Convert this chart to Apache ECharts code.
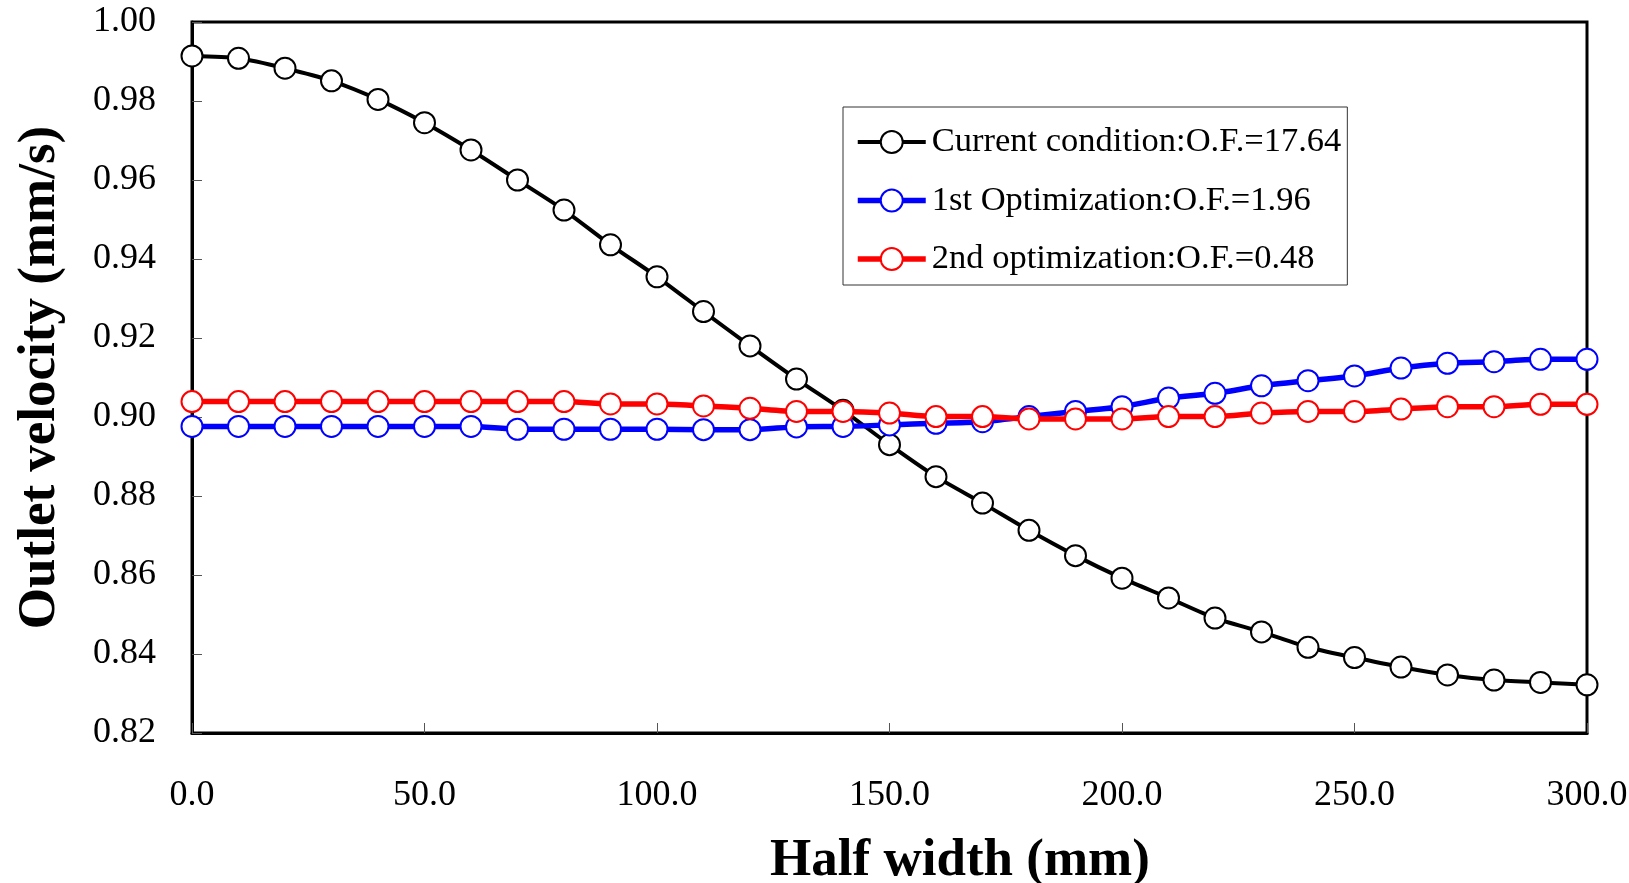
<!DOCTYPE html>
<html>
<head>
<meta charset="utf-8">
<script src="https://cdn.jsdelivr.net/npm/echarts@6/dist/echarts.min.js"></script>
<style>html,body{margin:0;padding:0;background:#fff;}#c{width:1629px;height:883px;}</style>
</head>
<body>
<div id="c"></div>
<script>
const halfWidth = [0,10,20,30,40,50,60,70,80,90,100,110,120,130,140,150,160,170,180,190,200,210,220,230,240,250,260,270,280,290,300];
const currentCondition = [0.9914,0.9908,0.9883,0.9851,0.9804,0.9745,0.9676,0.9600,0.9524,0.9436,0.9355,0.9267,0.9180,0.9096,0.9017,0.8930,0.8849,0.8782,0.8713,0.8649,0.8592,0.8542,0.8491,0.8456,0.8417,0.8391,0.8367,0.8347,0.8334,0.8328,0.8322];
const firstOpt = [0.8976,0.8976,0.8976,0.8976,0.8976,0.8976,0.8976,0.8969,0.8969,0.8969,0.8969,0.8968,0.8968,0.8975,0.8976,0.8980,0.8984,0.8988,0.9001,0.9014,0.9026,0.9048,0.9060,0.9079,0.9092,0.9104,0.9124,0.9136,0.9140,0.9146,0.9146];
const secondOpt = [0.9039,0.9039,0.9039,0.9039,0.9039,0.9039,0.9039,0.9039,0.9039,0.9033,0.9033,0.9028,0.9022,0.9014,0.9014,0.9010,0.9001,0.9001,0.8995,0.8995,0.8995,0.9001,0.9001,0.9010,0.9014,0.9014,0.9020,0.9026,0.9026,0.9032,0.9032];
const seriesNames = ['Current condition:O.F.=17.64','1st Optimization:O.F.=1.96','2nd optimization:O.F.=0.48'];
const xTitle = 'Half width (mm)';
const yTitle = 'Outlet velocity (mm/s)';

const font = 'Liberation Serif';
function pairs(ys){ return halfWidth.map((x,i)=>[x, ys[i]]); }
function mk(name, data, color, lw, z){
  return {
    name, type:'line', data: pairs(data), smooth:0.25, z,
    symbol:'circle', symbolSize:21,
    lineStyle:{color, width:lw},
    itemStyle:{color:'#fff', borderColor:color, borderWidth:2},
    emphasis:{disabled:true}
  };
}
const chart = echarts.init(document.getElementById('c'), null, {renderer:'canvas'});
chart.setOption({
  animation:false,
  backgroundColor:'#fff',
  grid:{left:192, right:42, top:22, bottom:150, show:true, borderColor:'#000', borderWidth:3, backgroundColor:'transparent', containLabel:false, outerBoundsMode:'none'},
  legend:{
    left:843, top:107, orient:'vertical',
    data: seriesNames,
    backgroundColor:'#fff', borderColor:'#333', borderWidth:1,
    padding:[15,6,6,12], itemGap:18.5, itemWidth:68, itemHeight:27.5,
    lineStyle:{width:'inherit'},
    itemStyle:{borderWidth:2},
    textStyle:{fontFamily:font, fontSize:34.5, color:'#000', lineHeight:40, padding:[0,0,0,1]}
  },
  xAxis:{
    type:'value', min:0, max:300, interval:50,
    name:xTitle, nameLocation:'middle', nameGap:102,
    nameTextStyle:{fontFamily:font, fontSize:53, fontWeight:'bold', color:'#000', padding:[0,0,0,141]},
    axisLine:{show:true, onZero:false, lineStyle:{color:'#000', width:3}},
    axisTick:{show:true, inside:true, length:10, lineStyle:{color:'#555', width:1}},
    axisLabel:{fontFamily:font, fontSize:36, color:'#000', margin:45, formatter:v=>v.toFixed(1)},
    splitLine:{show:false}
  },
  yAxis:{
    type:'value', min:0.82, max:1.00, interval:0.02,
    name:yTitle, nameLocation:'middle', nameGap:125, nameRotate:90,
    nameTextStyle:{fontFamily:font, fontSize:53, fontWeight:'bold', color:'#000'},
    axisLine:{show:true, onZero:false, lineStyle:{color:'#000', width:3}},
    axisTick:{show:true, inside:true, length:10, lineStyle:{color:'#555', width:1}},
    axisLabel:{fontFamily:font, fontSize:36, color:'#000', margin:36, formatter:v=>v.toFixed(2)},
    splitLine:{show:false}
  },
  series:[
    mk(seriesNames[0], currentCondition, '#000', 4, 2),
    mk(seriesNames[1], firstOpt, '#0000ff', 5.5, 3),
    mk(seriesNames[2], secondOpt, '#ff0000', 5.5, 4)
  ]
});
</script>
</body>
</html>
